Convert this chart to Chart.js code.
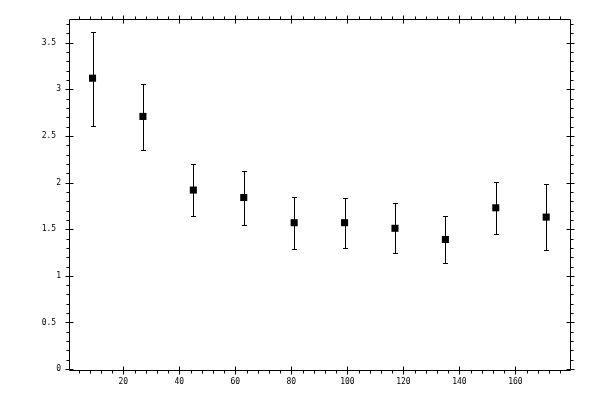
<!DOCTYPE html>
<html>
<head>
<meta charset="utf-8">
<script src="https://cdn.jsdelivr.net/npm/chart.js@4"></script>
<style>
  body { margin: 0; background: #fff; }
  #wrap { width: 600px; height: 400px; }
</style>
</head>
<body>
<div id="wrap"><canvas id="errChart"></canvas></div>
<script>
// bin centres, mean values and error sizes
let xValues = [9, 27, 45, 63, 81, 99, 117, 135, 153, 171];
let yValues = [3.12, 2.71, 1.92, 1.84, 1.57, 1.57, 1.51, 1.39, 1.73, 1.63];
let errUp = [0.50, 0.35, 0.28, 0.28, 0.28, 0.27, 0.27, 0.25, 0.28, 0.35];
let errDown = [0.51, 0.36, 0.28, 0.29, 0.28, 0.27, 0.27, 0.25, 0.28, 0.35];

let xTicks = [20, 40, 60, 80, 100, 120, 140, 160];
let yTicks = [0, 0.5, 1, 1.5, 2, 2.5, 3, 3.5];

let points = xValues.map((x, i) => ({ x: x, y: yValues[i] }));

// frame with crossing major ticks and outside minor ticks on all four sides
let framePlugin = {
  id: "frame",
  afterDraw(chart) {
    let ctx = chart.ctx;
    let a = chart.chartArea;
    let xs = chart.scales.x;
    let ys = chart.scales.y;
    let L = Math.round(a.left) + 0.5, R = Math.round(a.right) + 0.5;
    let T = Math.round(a.top) + 0.5, B = Math.round(a.bottom) + 0.5;
    ctx.save();
    ctx.strokeStyle = "#000";
    ctx.lineWidth = 1;
    ctx.beginPath();
    ctx.rect(L, T, R - L, B - T);
    // minor ticks
    for (let v = 4; v < 180; v += 4) {
      if (v % 20 === 0) continue;
      let px = Math.round(xs.getPixelForValue(v)) + 0.5;
      ctx.moveTo(px, B); ctx.lineTo(px, B + 3);
      ctx.moveTo(px, T); ctx.lineTo(px, T - 3);
    }
    for (let k = 0; k <= 37; k++) {
      if (k % 5 === 0) continue;
      let py = Math.round(ys.getPixelForValue(k / 10)) + 0.5;
      ctx.moveTo(L, py); ctx.lineTo(L - 3, py);
      ctx.moveTo(R, py); ctx.lineTo(R + 3, py);
    }
    // major ticks
    xTicks.forEach((v) => {
      let px = Math.round(xs.getPixelForValue(v)) + 0.5;
      ctx.moveTo(px, B - 4); ctx.lineTo(px, B + 4);
      ctx.moveTo(px, T - 4); ctx.lineTo(px, T + 4);
    });
    yTicks.forEach((v) => {
      let py = Math.round(ys.getPixelForValue(v)) + 0.5;
      ctx.moveTo(L - 4, py); ctx.lineTo(L + 4, py);
      ctx.moveTo(R - 4, py); ctx.lineTo(R + 4, py);
    });
    ctx.stroke();
    ctx.restore();
  },
};

// vertical error bars with small caps
let errorBarPlugin = {
  id: "errorBars",
  beforeDatasetsDraw(chart) {
    let ctx = chart.ctx;
    let xs = chart.scales.x;
    let ys = chart.scales.y;
    ctx.save();
    ctx.strokeStyle = "#000";
    ctx.lineWidth = 1;
    ctx.beginPath();
    xValues.forEach((x, i) => {
      let px = Math.round(xs.getPixelForValue(x)) + 0.5;
      let top = Math.round(ys.getPixelForValue(yValues[i] + errUp[i])) + 0.5;
      let bot = Math.round(ys.getPixelForValue(yValues[i] - errDown[i])) + 0.5;
      ctx.moveTo(px, top); ctx.lineTo(px, bot);
      ctx.moveTo(px - 2.5, top); ctx.lineTo(px + 2.5, top);
      ctx.moveTo(px - 2.5, bot); ctx.lineTo(px + 2.5, bot);
    });
    ctx.stroke();
    ctx.restore();
  },
};

let tickFont = { family: "DejaVu Sans Mono", size: 8 };

let ctx = document.getElementById("errChart").getContext("2d");
let errChart = new Chart(ctx, {
  type: "scatter",
  data: {
    datasets: [
      {
        data: points,
        pointStyle: "rect",
        pointRadius: 5,
        pointBorderWidth: 0,
        backgroundColor: "#000",
        borderColor: "#000",
      },
    ],
  },
  options: {
    responsive: true,
    maintainAspectRatio: false,
    animation: false,
    layout: { padding: { left: 0, top: 19, right: 30, bottom: 0 } },
    plugins: {
      legend: { display: false },
      tooltip: { enabled: false },
    },
    scales: {
      x: {
        type: "linear",
        min: 0.6,
        max: 179.5,
        border: { display: false },
        grid: { display: false, drawTicks: false },
        afterBuildTicks: (scale) => {
          scale.ticks = xTicks.map((v) => ({ value: v }));
        },
        afterFit: (scale) => {
          scale.height = 30;
        },
        ticks: {
          color: "#000",
          font: tickFont,
          padding: 7,
          maxRotation: 0,
          autoSkip: false,
        },
      },
      y: {
        type: "linear",
        min: -0.01,
        max: 3.755,
        border: { display: false },
        grid: { display: false, drawTicks: false },
        afterBuildTicks: (scale) => {
          scale.ticks = yTicks.map((v) => ({ value: v }));
        },
        afterFit: (scale) => {
          scale.width = 69;
        },
        ticks: {
          color: "#000",
          font: tickFont,
          padding: 8,
          autoSkip: false,
          callback: (v) => (Number.isInteger(v) ? String(v) : String(v) + " "),
        },
      },
    },
  },
  plugins: [errorBarPlugin, framePlugin],
});
</script>
</body>
</html>
